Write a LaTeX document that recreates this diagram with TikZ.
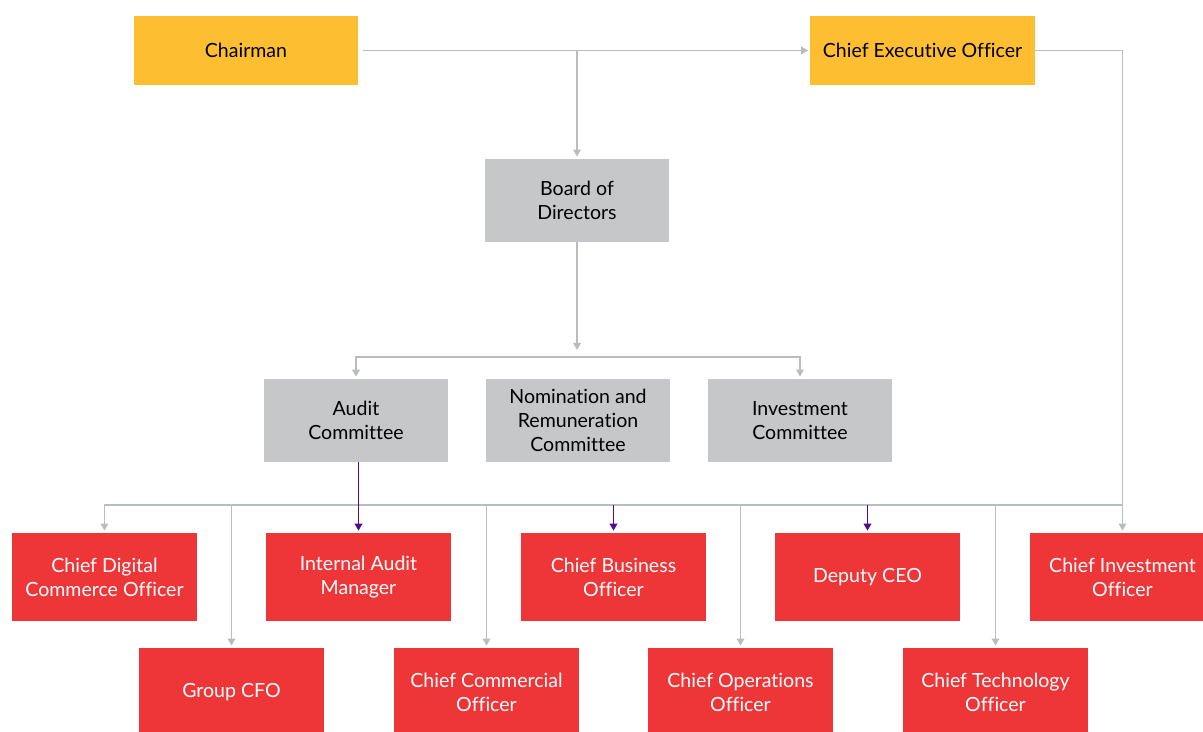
\documentclass[tikz,border=0pt]{standalone}
\usepackage{fontspec}
\setmainfont{Lato}[Ligatures = NoCommon]
\usetikzlibrary{arrows.meta}
\definecolor{boardyellow}{HTML}{FEBE32}
\definecolor{boardgray}{HTML}{C6C7C9}
\definecolor{execred}{HTML}{EE3537}
\definecolor{linegray}{HTML}{B9BDC0}
\definecolor{auditpurple}{HTML}{4E0C8E}

\begin{document}
\begin{tikzpicture}[x = 0.025cm, y = -0.025cm,
        font = \fontsize{13.9}{17}\selectfont,
        box/.style = {align = center, inner sep = 0pt},
        yellowbox/.style = {box, fill = boardyellow, minimum width = 5.6cm, minimum height = 1.725cm},
        graybox/.style = {box, fill = boardgray, minimum width = 4.6cm, minimum height = 2.075cm},
        redbox/.style = {box, fill = execred, text = white, minimum width = 4.625cm, minimum height = 2.2cm},
        link/.style = {draw = linegray, line width = 0.9pt},
        purplelink/.style = {draw = auditpurple, line width = 0.9pt},
        arrowed/.style = {-{Triangle[length = 5pt, width = 5.5pt]}, shorten > = 1.5pt},
        botharrowed/.style = {{Triangle[length = 5pt, width = 5.5pt]}-{Triangle[length = 5pt, width = 5.5pt]}, shorten > = 1.5pt, shorten < = 1.5pt}]
            \useasboundingbox (0, 0) rectangle (1203, 731);
            
            \node[yellowbox] (chair) at (246, 50.5) {Chairman};
            \node[yellowbox] (ceo) at (922.5, 50.5) {Chief Executive Officer};
            
            \node[graybox] (board) at (577, 200.5) {Board of \\ Directors};
            \node[graybox] (audit) at (356, 420.5) {Audit \\ Committee};
            \node[graybox] (nomrem) at (578, 420.5) {Nomination and \\ Remuneration \\ Committee};
            \node[graybox] (invcom) at (800, 420.5) {Investment \\ Committee};
            
            \node[redbox] (cdco) at (104.5, 577) {Chief Digital \\ Commerce Officer};
            \node[redbox] (iam) at (358.5, 577) {Internal Audit \\ Manager};
            \node[redbox] (cbo) at (613.5, 577) {Chief Business \\ Officer};
            \node[redbox] (dceo) at (867.5, 577) {Deputy CEO};
            \node[redbox] (cio) at (1122.5, 577) {Chief Investment \\ Officer};
            
            \node[redbox] (gcfo) at (231.5, 692) {Group CFO};
            \node[redbox] (ccomo) at (486.5, 692) {Chief Commercial \\ Officer};
            \node[redbox] (coo) at (740.5, 692) {Chief Operations \\ Officer};
            \node[redbox] (cto) at (995.5, 692) {Chief Technology \\ Officer};
            
            \coordinate (topjoin) at (577, 50.5);
            \coordinate (boardend) at (577, 352);
            \coordinate (midbus) at (577, 357);
            \coordinate (lowbus) at (577, 505);
            
            \draw[link, arrowed, shorten < = 3pt] (chair) -- (ceo);
            \draw[link, arrowed] (topjoin) -- (board);
            \draw[link, arrowed] (board) -- (boardend);
            \draw[link, botharrowed] (audit.north) -- (audit.north |- midbus) -- (invcom.north |- midbus) -- (invcom.north);
            
            \draw[link, arrowed] (ceo.east) -| (cio.north);
            \draw[link, arrowed] (cio.north |- lowbus) -- (cdco.north |- lowbus) -- (cdco.north);
            \foreach \exec in {gcfo, ccomo, coo, cto}
                \draw[link, arrowed] (\exec.north |- lowbus) -- (\exec.north);
            
            \draw[purplelink, arrowed] (iam.north |- audit.south) -- (iam.north);
            \foreach \exec in {cbo, dceo}
                \draw[purplelink, arrowed] (\exec.north |- lowbus) -- (\exec.north);
        \end{tikzpicture}
\end{document}
